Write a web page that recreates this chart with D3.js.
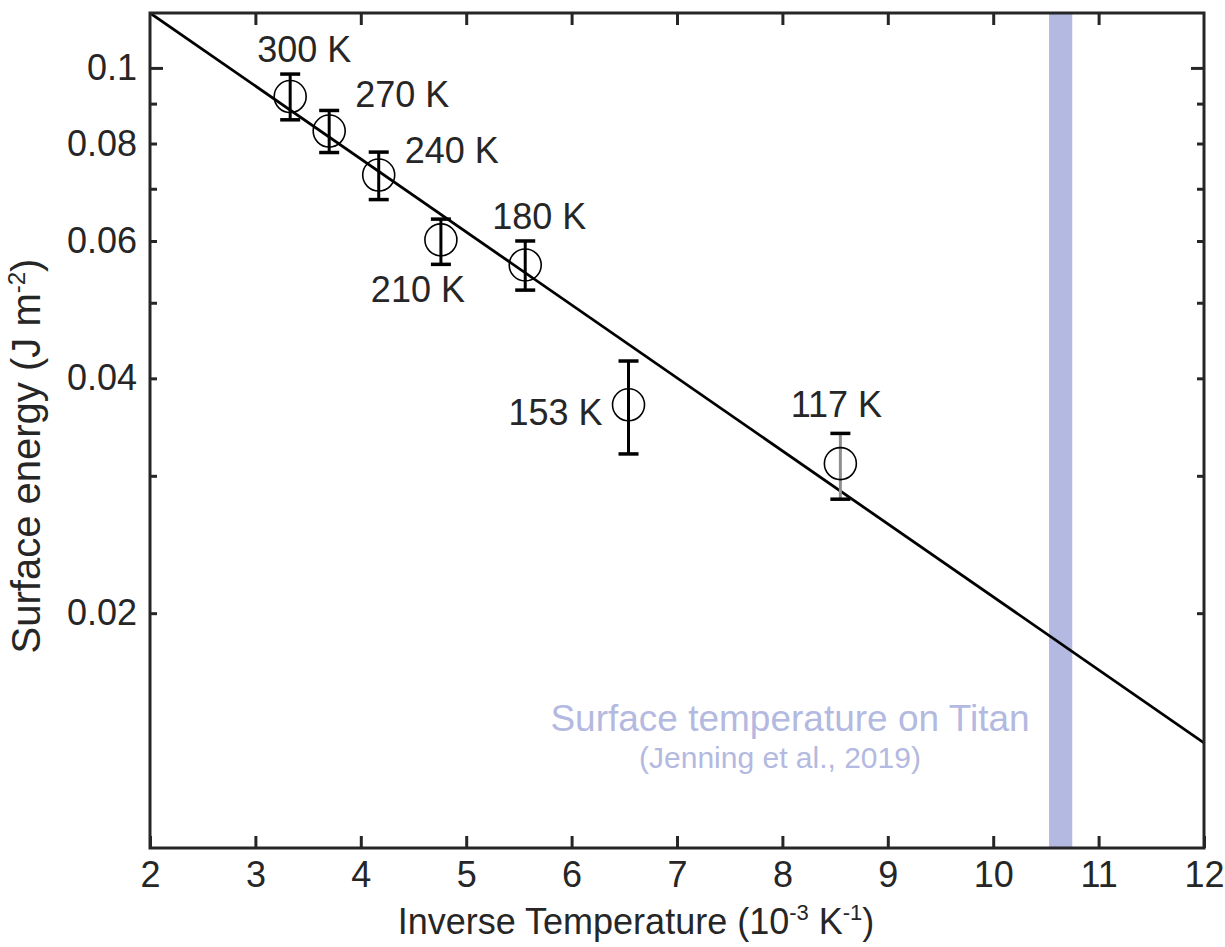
<!DOCTYPE html>
<html>
<head>
<meta charset="utf-8">
<script src="https://cdnjs.cloudflare.com/ajax/libs/d3/7.8.5/d3.min.js"></script>
<style>
  body { margin: 0; background: #fff; }
  text { font-family: "Liberation Sans", Arial, sans-serif; fill: #262626; }
</style>
</head>
<body>
<div id="chart"></div>
<script>
var tempLabels = ["300 K", "270 K", "240 K", "210 K", "180 K", "153 K", "117 K"];
var inverseT   = [3.33, 3.70, 4.17, 4.76, 5.56, 6.54, 8.55];
var energy     = [0.0919, 0.0830, 0.0729, 0.0602, 0.0559, 0.0370, 0.0311];
var errLow     = [0.0858, 0.0779, 0.0678, 0.0560, 0.0519, 0.0320, 0.0280];
var errHigh    = [0.0982, 0.0882, 0.0780, 0.0640, 0.0600, 0.0421, 0.0340];

// fitted line end points
var fitX = [2, 12];
var fitY = [0.1176, 0.01364];

// Titan surface temperature band (10^-3 K^-1)
var titanBand = [10.53, 10.75];

var xTicks = [2, 3, 4, 5, 6, 7, 8, 9, 10, 11, 12];
var yTickLabels = [0.02, 0.04, 0.06, 0.08, 0.1];
var yMinorTicks = [0.02, 0.03, 0.04, 0.05, 0.06, 0.07, 0.08, 0.09];
var yMajorTicks = [0.1];

// label offsets from the marker (px)
var labelOffsets = [[14, -35], [73, -24], [73, -12], [-23, 62], [14, -36], [-73, 20], [-4, -47]];

(function() {
    var W = 1225, H = 947;
    var mLeft = 150, mRight = 1204, mTop = 13, mBottom = 848;
    var axisColor = "#262626";

    var svg = d3.select("#chart").append("svg")
        .attr("width", W)
        .attr("height", H);

    var x = d3.scaleLinear().domain([2, 12]).range([mLeft, mRight]);
    var y = d3.scaleLog().domain([0.01, 0.1176]).range([mBottom, mTop]);

    svg.append("clipPath").attr("id", "plotClip")
        .append("rect")
        .attr("x", mLeft).attr("y", mTop)
        .attr("width", mRight - mLeft).attr("height", mBottom - mTop);

    var plot = svg.append("g").attr("clip-path", "url(#plotClip)");

    // titan band
    plot.append("rect")
        .attr("x", x(titanBand[0]))
        .attr("y", mTop)
        .attr("width", x(titanBand[1]) - x(titanBand[0]))
        .attr("height", mBottom - mTop)
        .attr("fill", "#b3b9e0");

    // fit line
    plot.append("line")
        .attr("x1", x(fitX[0])).attr("y1", y(fitY[0]))
        .attr("x2", x(fitX[1])).attr("y2", y(fitY[1]))
        .attr("stroke", "#000")
        .attr("stroke-width", 2.8);

    var pts = inverseT.map(function(v, i) {
        return {x: v, y: energy[i], lo: errLow[i], hi: errHigh[i], label: tempLabels[i], off: labelOffsets[i]};
    });

    // error bars
    var bars = plot.selectAll(".err").data(pts).enter().append("g").attr("class", "err");
    bars.append("line")
        .attr("x1", function(d) { return x(d.x); })
        .attr("x2", function(d) { return x(d.x); })
        .attr("y1", function(d) { return y(d.lo); })
        .attr("y2", function(d) { return y(d.hi); })
        .attr("stroke", function(d) { return d.label == "117 K" ? "#8f8f8f" : "#000"; })
        .attr("stroke-width", 3);
    bars.append("line")
        .attr("x1", function(d) { return x(d.x) - 10; })
        .attr("x2", function(d) { return x(d.x) + 10; })
        .attr("y1", function(d) { return y(d.hi); })
        .attr("y2", function(d) { return y(d.hi); })
        .attr("stroke", "#000").attr("stroke-width", 3.5);
    bars.append("line")
        .attr("x1", function(d) { return x(d.x) - 10; })
        .attr("x2", function(d) { return x(d.x) + 10; })
        .attr("y1", function(d) { return y(d.lo); })
        .attr("y2", function(d) { return y(d.lo); })
        .attr("stroke", "#000").attr("stroke-width", 3.5);

    // markers
    plot.selectAll(".pt").data(pts).enter().append("circle")
        .attr("class", "pt")
        .attr("cx", function(d) { return x(d.x); })
        .attr("cy", function(d) { return y(d.y); })
        .attr("r", 16)
        .attr("fill", "none")
        .attr("stroke", "#000")
        .attr("stroke-width", 1.6);

    // point labels
    svg.selectAll(".lbl").data(pts).enter().append("text")
        .attr("class", "lbl")
        .attr("x", function(d) { return x(d.x) + d.off[0]; })
        .attr("y", function(d) { return y(d.y) + d.off[1]; })
        .attr("text-anchor", "middle")
        .style("font-size", "36px")
        .text(function(d) { return d.label; });

    // band annotation
    svg.append("text")
        .attr("x", 790).attr("y", 731)
        .attr("text-anchor", "middle")
        .style("font-size", "37px")
        .style("fill", "#b3b9e0")
        .text("Surface temperature on Titan");
    svg.append("text")
        .attr("x", 780).attr("y", 768)
        .attr("text-anchor", "middle")
        .style("font-size", "30px")
        .style("fill", "#b3b9e0")
        .text("(Jenning et al., 2019)");

    // frame
    svg.append("rect")
        .attr("x", mLeft).attr("y", mTop)
        .attr("width", mRight - mLeft).attr("height", mBottom - mTop)
        .attr("fill", "none")
        .attr("stroke", axisColor)
        .attr("stroke-width", 3);

    // x ticks, bottom and top, pointing in
    var xAxisB = d3.axisBottom(x).tickValues(xTicks).tickSize(-12).tickPadding(13).tickSizeOuter(0);
    var xAxisT = d3.axisTop(x).tickValues(xTicks.slice(1, -1)).tickSize(-12).tickFormat("").tickSizeOuter(0);

    svg.append("g").attr("transform", "translate(0," + mBottom + ")").call(xAxisB);
    svg.append("g").attr("transform", "translate(0," + mTop + ")").call(xAxisT);

    // y ticks left/right: minor and major
    var yMinorL = d3.axisLeft(y).tickValues(yMinorTicks).tickSize(-7).tickFormat("").tickSizeOuter(0);
    var yMinorR = d3.axisRight(y).tickValues(yMinorTicks).tickSize(-7).tickFormat("").tickSizeOuter(0);
    var yMajorL = d3.axisLeft(y).tickValues(yMajorTicks).tickSize(-13).tickFormat("").tickSizeOuter(0);
    var yMajorR = d3.axisRight(y).tickValues(yMajorTicks).tickSize(-13).tickFormat("").tickSizeOuter(0);
    var yLabels = d3.axisLeft(y).tickValues(yTickLabels).tickSize(0).tickPadding(13)
        .tickFormat(function(d) { return String(d); }).tickSizeOuter(0);

    svg.append("g").attr("transform", "translate(" + mLeft + ",0)").call(yMinorL);
    svg.append("g").attr("transform", "translate(" + mRight + ",0)").call(yMinorR);
    svg.append("g").attr("transform", "translate(" + mLeft + ",0)").call(yMajorL);
    svg.append("g").attr("transform", "translate(" + mRight + ",0)").call(yMajorR);
    svg.append("g").attr("transform", "translate(" + mLeft + ",0)").call(yLabels);

    svg.selectAll(".domain").remove();
    svg.selectAll(".tick line").attr("stroke", axisColor).attr("stroke-width", 3);
    svg.selectAll(".tick text")
        .style("font-size", "36px")
        .style("font-family", "'Liberation Sans', Arial, sans-serif")
        .attr("fill", "#262626");

    // axis titles
    var xt = svg.append("text")
        .attr("x", 636).attr("y", 934)
        .attr("text-anchor", "middle")
        .style("font-size", "36px");
    xt.append("tspan").text("Inverse Temperature (10");
    xt.append("tspan").attr("dy", -14).style("font-size", "22px").text("-3");
    xt.append("tspan").attr("dy", 14).text(" K");
    xt.append("tspan").attr("dy", -14).style("font-size", "22px").text("-1");
    xt.append("tspan").attr("dy", 14).text(")");

    var yt = svg.append("text")
        .attr("transform", "translate(40,456) rotate(-90)")
        .attr("text-anchor", "middle")
        .style("font-size", "40px");
    yt.append("tspan").text("Surface energy (J m");
    yt.append("tspan").attr("dy", -15).style("font-size", "24px").text("-2");
    yt.append("tspan").attr("dy", 15).text(")");
})();
</script>
</body>
</html>
